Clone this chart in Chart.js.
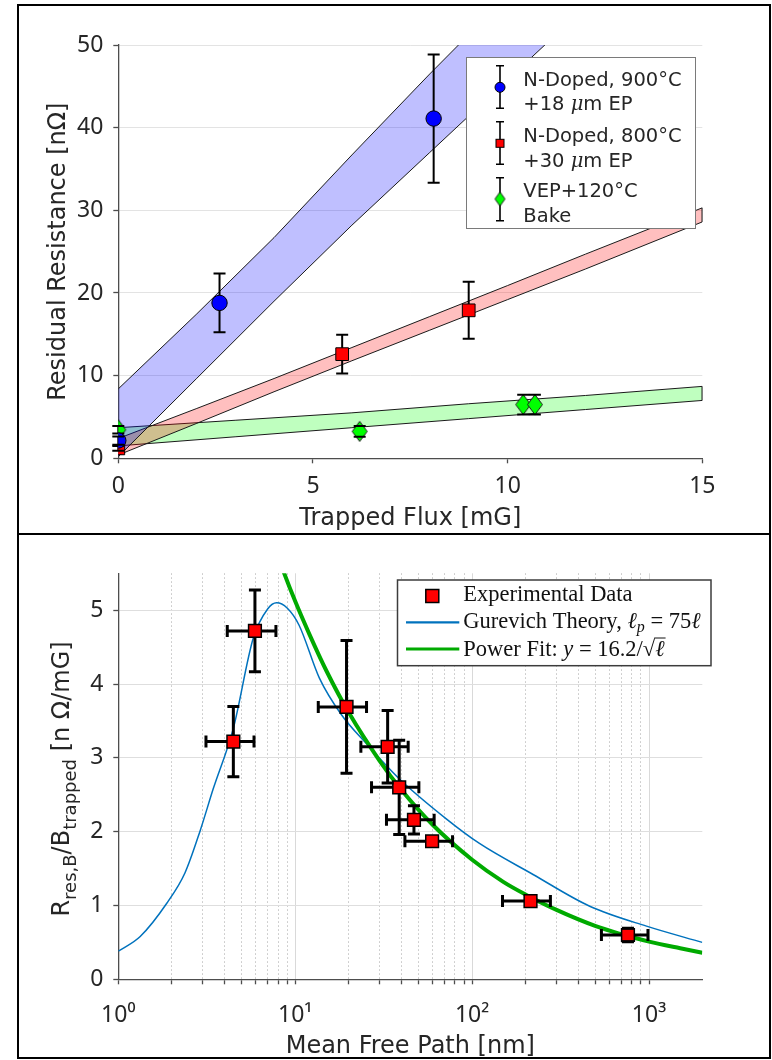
<!DOCTYPE html>
<html><head><meta charset="utf-8">
<script src="https://cdn.jsdelivr.net/npm/chart.js@4.4.1/dist/chart.umd.min.js"></script>
<style>
html,body{margin:0;padding:0;background:#fff;}
#wrap{position:relative;width:772px;height:1060px;overflow:hidden;background:#fff;}
canvas{position:absolute;left:0;display:block;}
#c1{top:0;} #c2{top:534px;}
.bl{position:absolute;background:#000;}
</style></head><body>
<div id="wrap">
<canvas id="c1" width="772" height="534"></canvas>
<canvas id="c2" width="772" height="526"></canvas>
<div class="bl" style="left:17px;top:4px;width:754px;height:2px"></div>
<div class="bl" style="left:17px;top:4px;width:2px;height:1055px"></div>
<div class="bl" style="left:769px;top:4px;width:2px;height:1055px"></div>
<div class="bl" style="left:17px;top:1057px;width:754px;height:2px"></div>
<div class="bl" style="left:17px;top:533px;width:754px;height:2px"></div>
</div>
<script>
// ---------------- DATA: top panel ----------------
const xTicksTop = [0, 5, 10, 15];
const yTicksTop = [0, 10, 20, 30, 40, 50];

const fluxBlue = [0, 2.6, 8.1];
const resBlue  = [2.15, 18.8, 41.1];
const errBlue  = [0.5, 3.55, 7.75];

const fluxRed = [0, 5.75, 9.0];
const resRed  = [1.2, 12.6, 17.9];
const errRed  = [0.3, 2.35, 3.45];

const fluxGreen = [0, 6.2, 10.4, 10.7];
const resGreen  = [3.45, 3.25, 6.5, 6.5];
const errGreen  = [0.45, 0.65, 1.2, 1.2];

const bandBlueX     = [0, 2, 4, 6, 8, 10, 12];
const bandBlueUpper = [8.4, 17.4, 26.7, 36.7, 46.5, 56, 66];
const bandBlueLower = [0.2, 9.6, 19.0, 28.2, 37.0, 45.8, 54.6];

const bandRedX     = [0, 2, 4, 6, 8, 10, 12, 15];
const bandRedUpper = [2.4, 6.0, 9.65, 13.4, 17.15, 20.9, 24.7, 30.3];
const bandRedLower = [0.4, 4.2, 8.05, 11.8, 15.5, 19.2, 22.9, 28.6];

const bandGreenX     = [0, 3, 6, 9, 12, 15];
const bandGreenUpper = [3.7, 4.6, 5.5, 6.6, 7.6, 8.7];
const bandGreenLower = [1.5, 2.6, 3.7, 4.8, 5.9, 7.0];

const legendTopLines = [
  ['N-Doped, 900°C', '+18 ', 'μ', 'm EP'],
  ['N-Doped, 800°C', '+30 ', 'μ', 'm EP'],
  ['VEP+120°C', 'Bake', '', '']
];

// ---------------- DATA: bottom panel ----------------
const xTicksBot = [1,2,3,4,5,6,7,8,9,10,20,30,40,50,60,70,80,90,100,200,300,400,500,600,700,800,900,1000];
const xDecades = [1, 10, 100, 1000];
const xDecadeText = ['10⁰', '10¹', '10²', '10³'];
const yTicksBot = [0, 1, 2, 3, 4, 5];

const mfp     = [4.47, 5.92, 19.5, 33.3, 38.7, 46.9, 59.4, 213.8, 760];
const rPerB   = [3.22, 4.72, 3.69, 3.15, 2.60, 2.16, 1.87, 1.06, 0.60];
const rPerBErr= [0.475, 0.555, 0.90, 0.49, 0.64, 0.19, 0, 0, 0.09];
const mfpLow  = [3.13, 4.13, 13.5, 23.5, 27.0, 32.8, 41.7, 148.5, 538];
const mfpHigh = [5.85, 7.78, 25.3, 43.5, 50.0, 61.0, 77.5, 277, 986];

const gurX = [1, 1.33, 1.88, 2.38, 2.89, 3.44, 4.47, 5.79, 7.0, 7.85, 9.0, 10.5, 13.7, 18.3, 25.3, 39, 71.7, 110, 221, 462, 967, 2000];
const gurY = [0.38, 0.58, 1.03, 1.44, 2.0, 2.58, 3.4, 4.62, 5.02, 5.1, 5.03, 4.8, 4.08, 3.58, 3.19, 2.71, 2.17, 1.84, 1.42, 0.99, 0.72, 0.5];

const fitX = [8, 8.6, 10, 12, 15, 20, 30, 40, 60, 100, 150, 200, 300, 500, 700, 1000, 1500, 2000];
const fitY = [5.73, 5.52, 5.12, 4.68, 4.18, 3.62, 2.96, 2.56, 2.09, 1.62, 1.32, 1.15, 0.94, 0.72, 0.61, 0.51, 0.42, 0.36];

// ---------------- STYLE ----------------
const FONT = '"DejaVu Sans", sans-serif';
const TICKFONT = '"Noto Sans", "DejaVu Sans", sans-serif';
const SERIF = '"Liberation Serif", "DejaVu Serif", serif';
const TXT = '#262626';
const AXC = '#4d4d4d';
Chart.defaults.font.family = FONT;
Chart.defaults.color = TXT;

function makeDiamond(hw, hh, fill, stroke) {
  const c = document.createElement('canvas');
  c.width = Math.ceil(hw * 2 + 3); c.height = Math.ceil(hh * 2 + 3);
  const g = c.getContext('2d');
  const cx = c.width / 2, cy = c.height / 2;
  g.beginPath(); g.moveTo(cx, cy - hh); g.lineTo(cx + hw, cy); g.lineTo(cx, cy + hh); g.lineTo(cx - hw, cy); g.closePath();
  g.fillStyle = fill; g.fill(); g.lineWidth = 1; g.strokeStyle = stroke; g.stroke();
  return c;
}

function drawErr(chart, i, caps) {
  const ds = chart.data.datasets[i];
  if (!ds.yErr && !ds.xLow) return;
  const meta = chart.getDatasetMeta(i);
  const xs = chart.scales[meta.xAxisID], ys = chart.scales[meta.yAxisID];
  const ctx = chart.ctx;
  const c = ds.capHalf;
  ctx.save();
  ctx.strokeStyle = '#000'; ctx.lineWidth = ds.errWidth; ctx.lineCap = 'butt';
  ds.data.forEach((p, k) => {
    const px = xs.getPixelForValue(p.x), py = ys.getPixelForValue(p.y);
    ctx.beginPath();
    if (ds.yErr && ds.yErr[k] > 0) {
      const t = ys.getPixelForValue(p.y + ds.yErr[k]), b = ys.getPixelForValue(p.y - ds.yErr[k]);
      if (!caps) { ctx.moveTo(px, t); ctx.lineTo(px, b); }
      else { ctx.moveTo(px - c, t); ctx.lineTo(px + c, t); ctx.moveTo(px - c, b); ctx.lineTo(px + c, b); }
    }
    if (ds.xLow) {
      const l = xs.getPixelForValue(ds.xLow[k]), r = xs.getPixelForValue(ds.xHigh[k]);
      if (!caps) { ctx.moveTo(l, py); ctx.lineTo(r, py); }
      else { ctx.moveTo(l, py - c); ctx.lineTo(l, py + c); ctx.moveTo(r, py - c); ctx.lineTo(r, py + c); }
    }
    ctx.stroke();
  });
  ctx.restore();
}
const errorBars = {
  id: 'errorBars',
  beforeDatasetDraw(chart, args) { drawErr(chart, args.index, false); },
  afterDatasetDraw(chart, args) { drawErr(chart, args.index, true); }
};

function rich(ctx, parts, x, y, opt) {
  opt = opt || {};
  ctx.save();
  ctx.translate(x, y);
  if (opt.rotate) ctx.rotate(-Math.PI / 2);
  ctx.textAlign = 'left'; ctx.textBaseline = 'alphabetic';
  let total = 0;
  for (const p of parts) { ctx.font = p.f; p.w = ctx.measureText(p.t).width; total += p.w; }
  let cx = opt.center ? -total / 2 : 0;
  for (const p of parts) {
    ctx.font = p.f; ctx.fillStyle = opt.color || TXT;
    ctx.fillText(p.t, cx, p.dy || 0);
    if (p.bar) {
      ctx.strokeStyle = opt.color || TXT; ctx.lineWidth = 1;
      ctx.beginPath(); ctx.moveTo(cx - 1, p.bar); ctx.lineTo(cx + p.w + 1, p.bar); ctx.stroke();
    }
    cx += p.w;
  }
  ctx.restore();
  return total;
}

const diamondImg = makeDiamond(7.5, 10, '#00ff00', '#1a1a1a');
const diamondSmall = makeDiamond(5, 7, '#00ff00', '#1a1a1a');

function pts(xs, ys) { return xs.map((x, i) => ({x, y: ys[i]})); }
function band(xs, up, lo, fill) {
  return {
    type: 'line',
    data: pts(xs, up).concat(pts(xs, lo).reverse()),
    fill: 'shape', backgroundColor: fill, borderColor: '#1a1a1a', borderWidth: 1,
    pointRadius: 0, tension: 0, clip: 0, order: 10
  };
}

// ---------------- legend (top) ----------------
const legendTop = {
  id: 'legendTop',
  afterDraw(chart) {
    const ctx = chart.ctx;
    ctx.save();
    ctx.fillStyle = '#fff'; ctx.fillRect(466, 57, 230, 172);
    ctx.strokeStyle = '#7a7a7a'; ctx.lineWidth = 1; ctx.strokeRect(466.5, 57.5, 229, 171);
    const mx = 500;
    const items = [
      {t: 65.7, b: 108.3, m: 87.3, kind: 'circle', y1: 86, y2: 110},
      {t: 121.7, b: 164.3, m: 143.3, kind: 'rect', y1: 141.7, y2: 166.7},
      {t: 177.7, b: 220.7, m: 199, kind: 'diamond', y1: 196.7, y2: 221.7}
    ];
    items.forEach((it, k) => {
      ctx.strokeStyle = '#000'; ctx.lineWidth = 1.6;
      ctx.beginPath();
      ctx.moveTo(mx, it.t); ctx.lineTo(mx, it.b);
      ctx.moveTo(mx - 4, it.t); ctx.lineTo(mx + 4, it.t);
      ctx.moveTo(mx - 4, it.b); ctx.lineTo(mx + 4, it.b);
      ctx.stroke();
      ctx.lineWidth = 1; ctx.strokeStyle = '#000';
      if (it.kind === 'circle') {
        ctx.fillStyle = '#0000ff'; ctx.beginPath(); ctx.arc(mx, it.m, 5, 0, Math.PI * 2); ctx.fill(); ctx.stroke();
      } else if (it.kind === 'rect') {
        ctx.fillStyle = '#ff0000'; ctx.fillRect(mx - 4, it.m - 4, 8, 8); ctx.strokeRect(mx - 4, it.m - 4, 8, 8);
      } else {
        ctx.drawImage(diamondSmall, mx - diamondSmall.width / 2, it.m - diamondSmall.height / 2);
      }
      const L = legendTopLines[k];
      const f = '19.5px ' + FONT;
      rich(ctx, [{t: L[0], f}], 523.3, it.y1);
      if (L[2]) rich(ctx, [{t: L[1], f}, {t: L[2], f: 'italic 19.5px "DejaVu Serif", serif'}, {t: L[3], f}], 523.3, it.y2);
      else rich(ctx, [{t: L[1], f}], 523.3, it.y2);
    });
    ctx.restore();
  }
};

// ---------------- legend + y title (bottom) ----------------
const legendBottom = {
  id: 'legendBottom',
  afterDraw(chart) {
    const ctx = chart.ctx;
    ctx.save();
    const x0 = 397.5, y0 = 46, w = 313.5, h = 85.7;
    ctx.fillStyle = '#fff'; ctx.fillRect(x0, y0, w, h);
    ctx.strokeStyle = '#3c3c3c'; ctx.lineWidth = 1.5; ctx.strokeRect(x0, y0, w, h);
    ctx.fillStyle = '#ff0000'; ctx.strokeStyle = '#000'; ctx.lineWidth = 1.5;
    ctx.fillRect(432.3 - 6.5, 62 - 6.5, 13, 13); ctx.strokeRect(432.3 - 6.5, 62 - 6.5, 13, 13);
    ctx.lineWidth = 2.2; ctx.strokeStyle = '#0072bd';
    ctx.beginPath(); ctx.moveTo(406, 88.3); ctx.lineTo(459.3, 88.3); ctx.stroke();
    ctx.lineWidth = 3; ctx.strokeStyle = '#00aa00';
    ctx.beginPath(); ctx.moveTo(406, 115); ctx.lineTo(459.3, 115); ctx.stroke();
    const f = '22.5px ' + SERIF, fi = 'italic 22.5px ' + SERIF, fs = 'italic 16px ' + SERIF;
    rich(ctx, [{t: 'Experimental Data', f}], 463.3, 67, {color: '#111'});
    rich(ctx, [{t: 'Gurevich Theory, ', f}, {t: 'ℓ', f: fi}, {t: 'p', f: fs, dy: 4}, {t: ' = 75', f}, {t: 'ℓ', f: fi}], 463.3, 94.3, {color: '#111'});
    rich(ctx, [{t: 'Power Fit: ', f}, {t: 'y', f: fi}, {t: ' = 16.2/', f}, {t: '√', f}, {t: 'ℓ', f: fi, bar: -18}], 463.3, 122, {color: '#111'});
    // y-axis title with subscripts
    const F = '24px ' + FONT, S = '18px ' + FONT;
    rich(ctx, [
      {t: 'R', f: F}, {t: 'res,B', f: S, dy: 7}, {t: '/B', f: F}, {t: 'trapped', f: S, dy: 7}, {t: ' [n Ω/mG]', f: F}
    ], 69, 245, {rotate: true, center: true});
    ctx.restore();
  }
};

// ---------------- top chart ----------------
new Chart(document.getElementById('c1'), {
  type: 'scatter',
  data: {
    datasets: [
      {data: pts(fluxBlue, resBlue), pointStyle: 'circle', pointRadius: 7.7, pointHoverRadius: 7.7,
       backgroundColor: '#0000ff', borderColor: '#000', borderWidth: 1,
       yErr: errBlue, errWidth: 2, capHalf: 6, order: 1},
      {data: pts(fluxRed, resRed), pointStyle: 'rect', pointRadius: 9, pointHoverRadius: 9,
       backgroundColor: '#ff0000', borderColor: '#000', borderWidth: 1,
       yErr: errRed, errWidth: 2, capHalf: 6, order: 2},
      {data: pts(fluxGreen, resGreen), pointStyle: diamondImg, pointRadius: 10, pointHoverRadius: 10,
       backgroundColor: '#00ff00', borderColor: '#000', borderWidth: 1,
       yErr: errGreen, errWidth: 2, capHalf: 6, order: 3},
      band(bandBlueX, bandBlueUpper, bandBlueLower, 'rgba(0,0,255,0.25)'),
      band(bandRedX, bandRedUpper, bandRedLower, 'rgba(255,0,0,0.25)'),
      band(bandGreenX, bandGreenUpper, bandGreenLower, 'rgba(0,255,0,0.25)')
    ]
  },
  options: {
    responsive: false, animation: false, events: [], devicePixelRatio: 1,
    layout: {padding: {top: 45, right: 69.7, left: 0, bottom: 0}},
    plugins: {legend: {display: false}, tooltip: {enabled: false}},
    scales: {
      x: {
        type: 'linear', min: 0, max: 15,
        afterBuildTicks: s => { s.ticks = xTicksTop.map(v => ({value: v})); },
        afterFit: s => { s.height = 75.7; },
        grid: {drawOnChartArea: false, tickLength: 5, tickColor: AXC, tickWidth: 1.3},
        border: {color: AXC, width: 1.3},
        ticks: {font: {family: TICKFONT, size: 23}, color: TXT, padding: 9, maxRotation: 0, minRotation: 0, autoSkip: false},
        title: {display: true, text: 'Trapped Flux [mG]', font: {family: FONT, size: 24, lineHeight: 1}, color: TXT, padding: {top: 0, bottom: 3}}
      },
      y: {
        type: 'linear', min: 0, max: 50,
        afterBuildTicks: s => { s.ticks = yTicksTop.map(v => ({value: v})); },
        afterFit: s => { s.width = 118.3; },
        grid: {color: '#e3e3e3', lineWidth: 1, tickLength: 5, tickColor: AXC, tickWidth: 1.3},
        border: {color: AXC, width: 1.3},
        ticks: {font: {family: TICKFONT, size: 23}, color: TXT, padding: 10},
        title: {display: true, text: 'Residual Resistance [nΩ]', font: {family: FONT, size: 24, lineHeight: 1}, color: TXT, padding: {top: 47, bottom: 0}}
      }
    }
  },
  plugins: [errorBars, legendTop]
});

// ---------------- bottom chart ----------------
new Chart(document.getElementById('c2'), {
  type: 'scatter',
  data: {
    datasets: [
      {data: pts(mfp, rPerB), pointStyle: 'rect', pointRadius: 9, pointHoverRadius: 9,
       backgroundColor: '#ff0000', borderColor: '#000', borderWidth: 1.5,
       yErr: rPerBErr, xLow: mfpLow, xHigh: mfpHigh, errWidth: 3, capHalf: 6, order: 1},
      {type: 'line', data: pts(fitX, fitY), borderColor: '#00aa00', borderWidth: 4, pointRadius: 0,
       cubicInterpolationMode: 'monotone', fill: false, clip: 0, order: 2},
      {type: 'line', data: pts(gurX, gurY), borderColor: '#0072bd', borderWidth: 1.5, pointRadius: 0,
       cubicInterpolationMode: 'monotone', fill: false, clip: 0, order: 3}
    ]
  },
  options: {
    responsive: false, animation: false, events: [], devicePixelRatio: 1,
    layout: {padding: {top: 39.3, right: 69.7, left: 0, bottom: 0}},
    plugins: {legend: {display: false}, tooltip: {enabled: false}},
    scales: {
      x: {
        type: 'logarithmic', min: 1, max: 2000,
        afterBuildTicks: s => { s.ticks = xTicksBot.map(v => ({value: v, major: xDecades.includes(v)})); },
        afterFit: s => { s.height = 80.7; },
        grid: {
          color: c => (c.tick && xDecades.includes(c.tick.value)) ? '#d9d9d9' : '#c2c2c2',
          lineWidth: 1, tickLength: 5, tickColor: AXC, tickWidth: 1.3
        },
        border: {color: AXC, width: 1.3, dash: c => (c.tick && !xDecades.includes(c.tick.value)) ? [1.5, 2.5] : []},
        ticks: {
          callback: v => { const k = xDecades.indexOf(v); return k >= 0 ? xDecadeText[k] : ''; },
          font: {family: TICKFONT, size: 23}, color: TXT, padding: 17, maxRotation: 0, minRotation: 0, autoSkip: false
        },
        title: {display: true, text: 'Mean Free Path [nm]', font: {family: FONT, size: 24, lineHeight: 1}, color: TXT, padding: {top: 0, bottom: 1}}
      },
      y: {
        type: 'linear', min: 0, max: 5.5,
        afterBuildTicks: s => { s.ticks = yTicksBot.map(v => ({value: v})); },
        afterFit: s => { s.width = 118.3; },
        grid: {color: '#dedede', lineWidth: 1, tickLength: 5, tickColor: AXC, tickWidth: 1.3},
        border: {color: AXC, width: 1.3},
        ticks: {font: {family: TICKFONT, size: 23}, color: TXT, padding: 10}
      }
    }
  },
  plugins: [errorBars, legendBottom]
});
</script>
</body></html>
